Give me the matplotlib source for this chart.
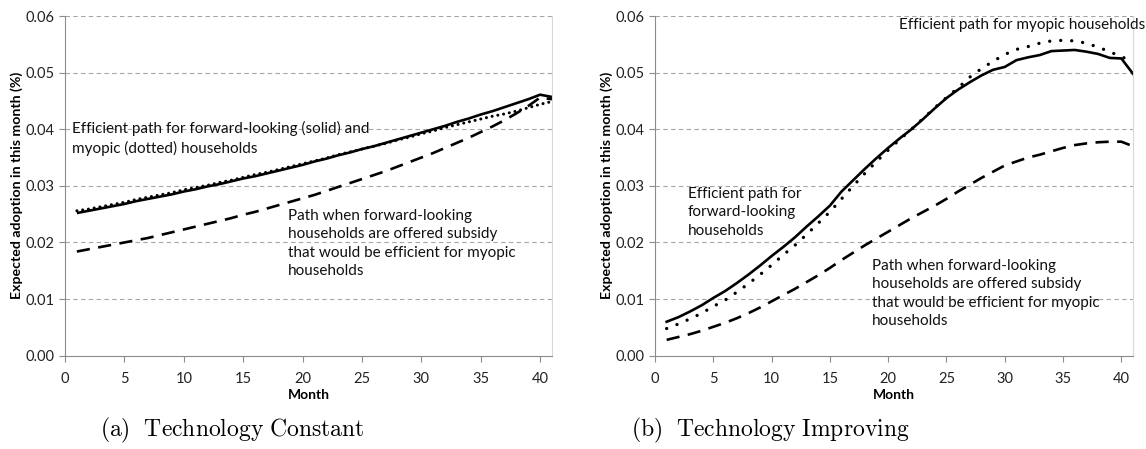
import matplotlib
matplotlib.use("Agg")
import matplotlib.pyplot as plt

plt.rcParams['font.family'] = ['Lato', 'DejaVu Sans']
plt.rcParams['mathtext.fontset'] = 'cm'

months = list(range(1, 42))

# (a) technology constant
const_forward = [0.0252, 0.0256, 0.0260, 0.0264, 0.0268, 0.0273, 0.0277, 0.0281, 0.0285, 0.0290,
                 0.0294, 0.0299, 0.0303, 0.0308, 0.0313, 0.0317, 0.0322, 0.0327, 0.0332, 0.0337,
                 0.0343, 0.0348, 0.0354, 0.0359, 0.0365, 0.0370, 0.0376, 0.0382, 0.0388, 0.0394,
                 0.0400, 0.0406, 0.0413, 0.0419, 0.0426, 0.0432, 0.0439, 0.0446, 0.0453, 0.0461,
                 0.0457]
const_myopic = [0.0256, 0.0259, 0.0263, 0.0267, 0.0271, 0.0276, 0.0280, 0.0284, 0.0288, 0.0293,
                0.0297, 0.0301, 0.0306, 0.0310, 0.0315, 0.0320, 0.0324, 0.0329, 0.0334, 0.0339,
                0.0344, 0.0349, 0.0355, 0.0360, 0.0365, 0.0370, 0.0375, 0.0381, 0.0386, 0.0392,
                0.0397, 0.0403, 0.0408, 0.0413, 0.0418, 0.0423, 0.0427, 0.0432, 0.0438, 0.0444,
                0.0449]
const_subsidy = [0.0184, 0.0188, 0.0192, 0.0196, 0.0200, 0.0204, 0.0208, 0.0213, 0.0218, 0.0223,
                 0.0228, 0.0233, 0.0238, 0.0243, 0.0249, 0.0254, 0.0260, 0.0266, 0.0272, 0.0278,
                 0.0284, 0.0291, 0.0298, 0.0305, 0.0312, 0.0319, 0.0326, 0.0334, 0.0342, 0.0350,
                 0.0358, 0.0367, 0.0376, 0.0385, 0.0395, 0.0405, 0.0416, 0.0428, 0.0441, 0.0456,
                 0.0453]

# (b) technology improving
impr_forward = [0.0060, 0.0068, 0.0078, 0.0089, 0.0102, 0.0114, 0.0128, 0.0143, 0.0159, 0.0176,
                0.0192, 0.0209, 0.0228, 0.0246, 0.0265, 0.0290, 0.0310, 0.0330, 0.0349, 0.0367,
                0.0384, 0.0400, 0.0418, 0.0437, 0.0455, 0.0470, 0.0483, 0.0495, 0.0505, 0.0510,
                0.0522, 0.0527, 0.0531, 0.0538, 0.0539, 0.0540, 0.0537, 0.0533, 0.0526, 0.0525,
                0.0498]
impr_myopic = [0.0048, 0.0056, 0.0065, 0.0075, 0.0087, 0.0098, 0.0112, 0.0127, 0.0143, 0.0160,
               0.0178, 0.0195, 0.0214, 0.0234, 0.0254, 0.0277, 0.0300, 0.0322, 0.0343, 0.0363,
               0.0382, 0.0400, 0.0419, 0.0438, 0.0456, 0.0473, 0.0492, 0.0507, 0.0520, 0.0532,
               0.0541, 0.0546, 0.0552, 0.0556, 0.0557, 0.0556, 0.0552, 0.0545, 0.0537, 0.0528,
               0.0520]
impr_subsidy = [0.0028, 0.0033, 0.0038, 0.0044, 0.0051, 0.0058, 0.0066, 0.0075, 0.0085, 0.0096,
                0.0107, 0.0118, 0.0130, 0.0142, 0.0155, 0.0169, 0.0182, 0.0195, 0.0207, 0.0219,
                0.0231, 0.0243, 0.0254, 0.0265, 0.0277, 0.0290, 0.0302, 0.0314, 0.0325, 0.0336,
                0.0343, 0.0350, 0.0355, 0.0361, 0.0367, 0.0372, 0.0375, 0.0377, 0.0378, 0.0378,
                0.0370]

yticks = [0.00, 0.01, 0.02, 0.03, 0.04, 0.05, 0.06]
xticks = [0, 5, 10, 15, 20, 25, 30, 35, 40]

fig = plt.figure(figsize=(11.46, 4.49), dpi=100)
ax1 = fig.add_axes([65 / 1146, 93.3 / 449, 487 / 1146, 339.7 / 449])
ax2 = fig.add_axes([655 / 1146, 93.3 / 449, 478 / 1146, 339.7 / 449])

axis_grey = '#8c8c8c'


def style_axis(ax):
    ax.set_xlim(0, 41)
    ax.set_ylim(0, 0.06)
    ax.set_xticks(xticks)
    ax.set_yticks(yticks)
    ax.set_yticklabels([f'{v:.2f}' for v in yticks])
    for v in yticks[1:]:
        ax.axhline(v, color='#a6a6a6', lw=0.8, ls=(0, (4, 3)), zorder=0)
    ax.spines['top'].set_visible(False)
    ax.spines['right'].set_color('#d9d9d9')
    ax.spines['left'].set_color(axis_grey)
    ax.spines['bottom'].set_color(axis_grey)
    ax.tick_params(axis='both', colors=axis_grey, labelcolor='#222222', labelsize=10.5,
                   length=4, width=0.8)
    ax.tick_params(axis='x', pad=8)
    ax.set_xlabel('Month', fontsize=10, fontweight='bold', labelpad=2)
    ax.set_ylabel('Expected adoption in this month (%)', fontsize=10.2, fontweight='bold',
                  labelpad=2)


for ax in (ax1, ax2):
    style_axis(ax)

ax1.plot(months, const_forward, color='black', lw=1.9, solid_capstyle='butt')
ax1.plot(months, const_myopic, color='black', lw=2.2, ls=(0, (0.01, 1.9)),
         dash_capstyle='round')
ax1.plot(months, const_subsidy, color='black', lw=1.9, ls=(0, (5, 3.2)))

ax2.plot(months, impr_forward, color='black', lw=1.9)
ax2.plot(months, impr_myopic, color='black', lw=2.4, ls=(0, (0.01, 3.3)),
         dash_capstyle='round')
ax2.plot(months, impr_subsidy, color='black', lw=1.9, ls=(0, (5, 3.2)))

note = dict(fontsize=11, color='#111111', va='top', ha='left', linespacing=1.4)
ax1.text(0.6, 0.0414, 'Efficient path for forward-looking (solid) and\n'
         'myopic (dotted) households', **note)
ax1.text(18.8, 0.0259, 'Path when forward-looking\nhouseholds are offered subsidy\n'
         'that would be efficient for myopic\nhouseholds', **note)
ax2.text(20.9, 0.0596, 'Efficient path for myopic households', clip_on=False, **note)
ax2.text(2.8, 0.0298, 'Efficient path for\nforward-looking\nhouseholds', **note)
ax2.text(18.6, 0.0171, 'Path when forward-looking\nhouseholds are offered subsidy\n'
         'that would be efficient for myopic\nhouseholds', **note)

fig.text(232 / 1146, 1 - 430 / 449, r'$\mathrm{(a)\ \ Technology\ Constant}$',
         ha='center', va='center', fontsize=17)
fig.text(770 / 1146, 1 - 430 / 449, r'$\mathrm{(b)\ \ Technology\ Improving}$',
         ha='center', va='center', fontsize=17)

fig.savefig('out.png', dpi=100)
